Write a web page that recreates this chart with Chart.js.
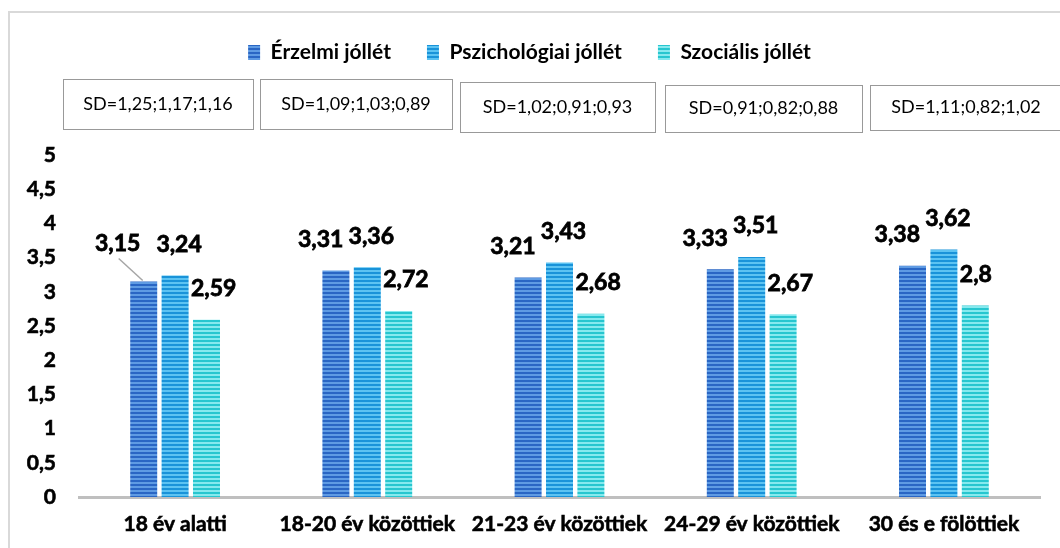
<!DOCTYPE html>
<html>
<head>
<meta charset="utf-8">
<script src="https://cdn.jsdelivr.net/npm/chart.js@4.4.0/dist/chart.umd.min.js"></script>
<style>
  html, body { margin: 0; padding: 0; background: #fff; }
  #wrap { width: 1060px; height: 548px; }
</style>
</head>
<body>
<div id="wrap"><canvas id="chart" width="1060" height="548"></canvas></div>
<script>
// Data
const categories = ["18 év alatti", "18-20 év közöttiek", "21-23 év közöttiek", "24-29 év közöttiek", "30 és e fölöttiek"];
const seriesNames = ["Érzelmi jóllét", "Pszichológiai jóllét", "Szociális jóllét"];
const erzelmi = [3.15, 3.31, 3.21, 3.33, 3.38];
const pszichologiai = [3.24, 3.36, 3.43, 3.51, 3.62];
const szocialis = [2.59, 2.72, 2.68, 2.67, 2.8];
const sdLabels = ["SD=1,25;1,17;1,16", "SD=1,09;1,03;0,89", "SD=1,02;0,91;0,93", "SD=0,91;0,82;0,88", "SD=1,11;0,82;1,02"];
const yTicks = [0, 0.5, 1, 1.5, 2, 2.5, 3, 3.5, 4, 4.5, 5];

const FONT = "Lato, 'Open Sans', sans-serif";

// striped fill like the original bars
function stripes(dark, light) {
    const c = document.createElement("canvas");
    c.width = 4; c.height = 4;
    const g = c.getContext("2d");
    g.fillStyle = light; g.fillRect(0, 0, 4, 4);
    g.fillStyle = dark; g.fillRect(0, 0, 4, 2);
    return g.createPattern(c, "repeat");
}
const ctx = document.getElementById("chart").getContext("2d");
const fills = [
    stripes("#2a66c4", "#5f9be3"),
    stripes("#1993d9", "#5cc3f2"),
    stripes("#27c6cf", "#86e9ee")
];

function comma(v) {
    return String(v).replace(".", ",");
}

// make legend take the room above the plot (SD boxes sit there)
const legendHeightPlugin = {
    id: "legendHeight",
    afterInit(chart) {
        const fit = chart.legend.fit;
        chart.legend.fit = function () {
            fit.call(this);
            this.height = 149;
        };
    }
};

// frame lines + SD boxes
const decorPlugin = {
    id: "decor",
    beforeDraw(chart) {
        const c = chart.ctx;
        c.save();
        c.strokeStyle = "#d9d9d9";
        c.lineWidth = 2;
        c.beginPath();
        c.moveTo(9, 548);
        c.lineTo(9, 12);
        c.lineTo(1060, 12);
        c.stroke();
        c.restore();
    },
    afterDraw(chart) {
        const boxes = [[63, 79, 190, 50], [260, 79, 192, 50], [460, 82, 195, 50], [665, 85, 197, 47], [870, 85, 192, 45]];
        const c = chart.ctx;
        c.save();
        c.strokeStyle = "#333";
        c.lineWidth = 1;
        c.setLineDash([1, 1]);
        c.font = "18px " + FONT;
        c.fillStyle = "#000";
        c.textAlign = "center";
        c.textBaseline = "middle";
        boxes.forEach((b, i) => {
            c.strokeRect(b[0] + 0.5, b[1] + 0.5, b[2], b[3]);
            c.fillText(sdLabels[i], b[0] + b[2] / 2, b[1] + b[3] / 2);
        });
        c.restore();
    }
};

// value labels above bars
const labelPlugin = {
    id: "valueLabels",
    afterDatasetsDraw(chart) {
        const c = chart.ctx;
        c.save();
        c.font = "bold 23px " + FONT;
        c.fillStyle = "#000";
        c.strokeStyle = "#000";
        c.lineWidth = 0.8;
        c.textBaseline = "middle";
        const draw = (t, x, y) => { c.fillText(t, x, y); c.strokeText(t, x, y); };
        chart.data.datasets.forEach((ds, di) => {
            const meta = chart.getDatasetMeta(di);
            meta.data.forEach((bar, i) => {
                const txt = comma(ds.data[i]);
                const half = bar.width / 2;
                let x, y = bar.y - 31;
                if (di === 0 && i === 0) {
                    // moved label with leader line
                    c.save();
                    c.strokeStyle = "#a6a6a6";
                    c.lineWidth = 1.5;
                    c.beginPath();
                    c.moveTo(bar.x - 25, bar.y - 23);
                    c.lineTo(bar.x - 1, bar.y - 1);
                    c.stroke();
                    c.restore();
                    c.textAlign = "center";
                    draw(txt, bar.x - 26, bar.y - 38);
                    return;
                }
                if (di === 0) {
                    c.textAlign = "right";
                    x = bar.x + half - 6;
                } else if (di === 1) {
                    c.textAlign = "center";
                    x = bar.x + 4;
                } else {
                    c.textAlign = "left";
                    x = bar.x - half - 2;
                }
                draw(txt, x, y);
            });
        });
        c.restore();
    }
};

new Chart(ctx, {
    type: "bar",
    data: {
        labels: categories,
        datasets: [
            { label: seriesNames[0], data: erzelmi, backgroundColor: fills[0] },
            { label: seriesNames[1], data: pszichologiai, backgroundColor: fills[1] },
            { label: seriesNames[2], data: szocialis, backgroundColor: fills[2] }
        ]
    },
    options: {
        responsive: false,
        animation: false,
        layout: { padding: { top: 6, left: 19, right: 20, bottom: 0 } },
        datasets: {
            bar: { categoryPercentage: 0.49, barPercentage: 0.86 }
        },
        plugins: {
            tooltip: { enabled: false },
            legend: {
                position: "top",
                labels: {
                    color: "#000",
                    boxWidth: 12,
                    boxHeight: 15,
                    padding: 36,
                    font: { family: FONT, size: 21, weight: "bold" }
                }
            }
        },
        scales: {
            x: {
                grid: { display: false, drawTicks: false },
                border: { display: true, color: "#bfbfbf", width: 3 },
                ticks: {
                    color: "#000",
                    padding: 15,
                    maxRotation: 0,
                    autoSkip: false,
                    textStrokeColor: "#000",
                    textStrokeWidth: 0.6,
                    font: { family: FONT, size: 21, weight: "bold" }
                },
                afterFit(scale) { scale.height = 51; }
            },
            y: {
                min: 0,
                max: 5,
                grid: { display: false, drawTicks: false },
                border: { display: false },
                afterBuildTicks(scale) { scale.ticks = yTicks.map(v => ({ value: v })); },
                ticks: {
                    color: "#000",
                    padding: 23,
                    textStrokeColor: "#000",
                    textStrokeWidth: 0.6,
                    font: { family: FONT, size: 21, weight: "bold" },
                    callback: v => comma(v)
                },
                afterFit(scale) { scale.width = 60; }
            }
        }
    },
    plugins: [legendHeightPlugin, decorPlugin, labelPlugin]
});
</script>
</body>
</html>
